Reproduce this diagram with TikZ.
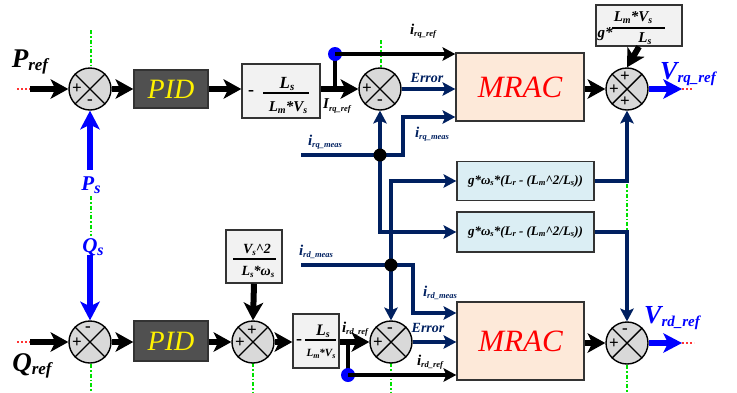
\documentclass[tikz,border=0pt]{standalone}
\usepackage{fontspec}
\setmainfont{Liberation Serif}
\usetikzlibrary{arrows.meta,calc}
\definecolor{navy}{HTML}{002060}
\definecolor{sumgray}{HTML}{D9D9D9}
\definecolor{boxgray}{HTML}{F2F2F2}
\definecolor{pidgray}{HTML}{505050}
\definecolor{peach}{HTML}{FDE9D9}
\definecolor{lblue}{HTML}{DBEEF4}
\definecolor{gline}{HTML}{00E000}
\newcommand\fs[1]{\fontsize{#1}{#1}\selectfont}
\newcommand\sbx[2]{\raisebox{-0.3ex}{\fontsize{#1}{#1}\selectfont #2}}
\begin{document}
\begin{tikzpicture}[x=1pt,y=-1pt,font=\bfseries\itshape,
 sumc/.style={circle,draw=black,line width=1.4pt,fill=sumgray,minimum size=42pt,inner sep=0pt},
 box/.style={draw=black!80,line width=1.5pt,inner sep=0pt},
 thk/.style={black,line width=6pt,-{Stealth[length=18pt,width=20pt,inset=5pt,line width=0pt]}},
 thkb/.style={blue,line width=5.5pt,-{Stealth[length=19pt,width=20pt,inset=5pt,line width=0pt]}},
 nav/.style={navy,line width=3.5pt},
 nava/.style={nav,-{Stealth[length=13pt,width=14pt,inset=3pt,line width=0pt]}},
 blk/.style={black,line width=3.5pt},
 blka/.style={blk,-{Stealth[length=13pt,width=14pt,inset=3pt,line width=0pt]}},
 gdot/.style={draw=gline,line width=1.4pt,dash pattern=on 4pt off 2pt on 1.5pt off 2pt},
 rdot/.style={draw=red!80!white,line width=1.2pt,dash pattern=on 2pt off 2pt},
 jdot/.style={circle,fill=black,minimum size=13pt,inner sep=0pt},
 bdot/.style={circle,fill=blue,minimum size=14pt,inner sep=0pt},
 sg/.style={font=\bfseries\upshape\fs{17},inner sep=0pt},
 lab/.style={inner sep=0pt},
 xfrac/.style={font=\bfseries\itshape\fs{15},inner sep=0pt}]
\useasboundingbox (0,0) rectangle (737,392);

% green guide lines
\draw[gdot] (91,30)--(91,68) (91,196)--(91,236) (91,364)--(91,392)
 (381,40)--(381,68) (627,184)--(627,230)
 (253,363)--(253,392) (391,363)--(391,392) (627,365)--(627,392);

% summing junctions
\node[sumc] (s1) at (90,89) {};
\node[sumc] (s2) at (380,89) {};
\node[sumc] (s3) at (627,89) {};
\node[sumc] (s5) at (90,342) {};
\node[sumc] (s6) at (253,342) {};
\node[sumc] (s7) at (391,342) {};
\node[sumc] (s4) at (627,343) {};
\foreach \s in {s1,s2,s3,s4,s5,s6,s7}{
 \draw[line width=1.4pt] (\s.north west)--(\s.south east) (\s.north east)--(\s.south west);}
\node[sg] (p1a) at ($(s1)+(-13,0)$) {+};
\node[sg] (p1b) at ($(s1)+(0,13)$) {-};
\node[sg] (p2a) at ($(s2)+(-13,0)$) {+};
\node[sg] (p2b) at ($(s2)+(0,13)$) {-};
\node[sg] (p3a) at ($(s3)+(-13,1)$) {+};
\node[sg] (p3b) at ($(s3)+(-2,-12)$) {+};
\node[sg] (p3c) at ($(s3)+(-2,13)$) {+};
\node[sg] (p5a) at ($(s5)+(-13,1)$) {+};
\node[sg] (p5b) at ($(s5)+(-2,-13)$) {-};
\node[sg] (p6a) at ($(s6)+(-13,1)$) {+};
\node[sg] (p6b) at ($(s6)+(-1,-11)$) {+};
\node[sg] (p7a) at ($(s7)+(-13,1)$) {+};
\node[sg] (p7b) at ($(s7)+(-1,-12)$) {-};
\node[sg] (p4a) at ($(s4)+(-13,1)$) {+};
\node[sg] (p4b) at ($(s4)+(-2,-12)$) {-};

% blocks
\node[box,fill=pidgray,minimum width=74pt,minimum height=38pt,text=yellow,font=\mdseries\itshape\fs{28}] (pid1) at (171,89) {PID};
\node[box,fill=pidgray,minimum width=74pt,minimum height=40pt,text=yellow,font=\mdseries\itshape\fs{28}] (pid2) at (171,341) {PID};
\node[box,fill=boxgray,minimum width=78pt,minimum height=54pt] (g1) at (281,91) {};
\node[box,fill=boxgray,minimum width=46pt,minimum height=54pt] (g2) at (316,341) {};
\node[box,fill=boxgray,minimum width=56pt,minimum height=53pt] (vsb) at (254,256.5) {};
\node[box,fill=boxgray,minimum width=86pt,minimum height=41pt] (gk) at (639,25.5) {};
\node[box,fill=peach,minimum width=128pt,minimum height=68pt,text=red,font=\mdseries\itshape\fs{31}] (mrac1) at (520,87) {MRAC};
\node[box,fill=peach,minimum width=127pt,minimum height=78pt,text=red,font=\mdseries\itshape\fs{31}] (mrac2) at (520.5,341) {MRAC};
\node[box,fill=lblue,minimum width=137pt,minimum height=39pt,font=\bfseries\itshape\fs{13}] (gw1) at (525.5,181) {g*ω\sbx{8.5}{s}*(L\sbx{8.5}{r} - (L\sbx{8.5}{m}\textasciicircum 2/L\sbx{8.5}{s}))};
\node[box,fill=lblue,minimum width=137pt,minimum height=40pt,font=\bfseries\itshape\fs{13}] (gw2) at (525.5,232) {g*ω\sbx{8.5}{s}*(L\sbx{8.5}{r} - (L\sbx{8.5}{m}\textasciicircum 2/L\sbx{8.5}{s}))};

% block contents
\node[xfrac,font=\bfseries\upshape\fs{18}] (g1m) at (251,93) {-};
\draw[line width=2.5pt] (263,93) -- (309,93);
\node[xfrac,font=\bfseries\itshape\fs{17}] (g1n) at (287,84) {L\sbx{11}{s}};
\node[xfrac] (g1d) at (288,108) {L\sbx{10}{m}*V\sbx{10}{s}};

\node[xfrac,font=\bfseries\upshape\fs{18}] (g2m) at (299,342) {-};
\draw[line width=2.2pt] (305,340) -- (336,340);
\node[xfrac,font=\bfseries\itshape\fs{16}] (g2n) at (323,331) {L\sbx{10}{s}};
\node[xfrac,font=\bfseries\itshape\fs{11}] (g2d) at (321,354) {L\sbx{8}{m}*V\sbx{8}{s}};

\draw[line width=2.5pt] (233,259) -- (276,259);
\node[xfrac,font=\bfseries\itshape\fs{14}] (vsn) at (257,250) {V\sbx{9}{s}\textasciicircum 2};
\node[xfrac,font=\bfseries\itshape\fs{14}] (vsd) at (258,272) {L\sbx{9}{s}*ω\sbx{9}{s}};

\draw[line width=2.5pt] (612,28) -- (665,28);
\node[xfrac] (gkg) at (605,34) {g*};
\node[xfrac] (gkn) at (633,18) {L\sbx{10}{m}*V\sbx{10}{s}};
\node[xfrac] (gkd) at (645,39) {L\sbx{10}{s}};

% junction dots and coordinates
\coordinate (j1) at (335,89);
\coordinate (j2) at (348,342);
\coordinate (pin) at (30,89);
\coordinate (psin) at (90,170);
\coordinate (qin) at (30,342);
\coordinate (qsin) at (90,255);
\coordinate (rqm) at (301,155);
\coordinate (rdm) at (301,265);
\coordinate (vq) at (682,89);
\coordinate (vd) at (682,343);

% top loop
\draw[rdot] (17,89) -- (pin);
\draw[thk] (pin) -- (s1.west);
\draw[thkb] (psin) -- (s1.south);
\draw[thk] (s1.east) -- (pid1.west);
\draw[thk] (pid1.east) -- (pid1.east -| g1.west);
\draw[thk] (g1.east |- s2.west) -- (s2.west);
\draw[blk] (j1) -- (335,54);
\node[bdot] (d1) at (335,54) {};
\draw[blka] (d1.center) -- (d1.center -| mrac1.west);
\draw[nava] (s2.east) -- (s2.east -| mrac1.west);
\draw[nav] (rqm) -- (380,155);
\draw[nava] (380,155) -- (403,155) -- (403,117) -- (403,117 -| mrac1.west);
\draw[nava] (380,155) -- (s2.south);
\draw[nava] (380,155) |- (gw2.west);

% bottom loop
\draw[nav] (rdm) -- (391,265);
\draw[nava] (391,265) -- (413,265) -- (413,313) -- (413,313 -| mrac2.west);
\draw[nava] (391,265) -- (s7.north);
\draw[nava] (391,265) |- (gw1.west);
\node[jdot] (m1) at (380,155) {};
\node[jdot] (m2) at (391,265) {};

\draw[nava] (gw1.east) -| (s3.south);
\draw[nava] (gw2.east) -| (s4.north);
\draw[thk] (gk.south) -- (s3.north);
\draw[thk] (mrac1.east |- s3.west) -- (s3.west);
\draw[thkb] (s3.east) -- (vq);
\draw[rdot] (vq) -- (692,89);

\draw[rdot] (17,342) -- (qin);
\draw[thk] (qin) -- (s5.west);
\draw[thkb] (qsin) -- (s5.north);
\draw[thk] (s5.east) -- (s5.east -| pid2.west);
\draw[thk] (s6.west -| pid2.east) -- (s6.west);
\draw[thk] (vsb.south) -- (s6.north);
\draw[thk] (s6.east) -- (s6.east -| g2.west);
\draw[thk] (g2.east |- s7.west) -- (s7.west);
\draw[blk] (j2) -- (348,375);
\node[bdot] (d2) at (348,375) {};
\draw[blka] (d2.center) -- (d2.center -| mrac2.west);
\draw[nava] (s7.east) -- (s7.east -| mrac2.west);
\draw[thk] (mrac2.east |- s4.west) -- (s4.west);
\draw[thkb] (s4.east) -- (vd);
\draw[rdot] (vd) -- (694,343);

% labels
\node[lab,font=\bfseries\itshape\fs{27}] (lpref) at (30,62) {P\sbx{17}{ref}};
\node[lab,font=\bfseries\itshape\fs{27}] (lqref) at (32,366) {Q\sbx{17}{ref}};
\node[lab,text=blue,font=\bfseries\itshape\fs{21}] (lps) at (91,185) {P\sbx{16}{s}};
\node[lab,text=blue,font=\bfseries\itshape\fs{21}] (lqs) at (93,247) {Q\sbx{16}{s}};
\node[lab,text=blue,font=\bfseries\itshape\fs{26}] (lvq) at (688,74) {V\sbx{15}{rq\_ref}};
\node[lab,text=blue,font=\bfseries\itshape\fs{26}] (lvd) at (672,318) {V\sbx{15}{rd\_ref}};
\node[lab,font=\bfseries\itshape\fs{15}] (l1) at (423,31) {i\sbx{8.5}{rq\_ref}};
\node[lab,font=\bfseries\itshape\fs{15}] (l2) at (337,106) {I\sbx{8.5}{rq\_ref}};
\node[lab,text=navy,font=\bfseries\itshape\fs{14}] (l3) at (427,78) {Error};
\node[lab,text=navy,font=\bfseries\itshape\fs{15}] (l4) at (432,134) {i\sbx{8.5}{rq\_meas}};
\node[lab,text=navy,font=\bfseries\itshape\fs{15}] (l5) at (325,142) {i\sbx{8.5}{rq\_meas}};
\node[lab,text=navy,font=\bfseries\itshape\fs{15}] (l6) at (316,252) {i\sbx{8.5}{rd\_meas}};
\node[lab,text=navy,font=\bfseries\itshape\fs{15}] (l7) at (440,293) {i\sbx{8.5}{rd\_meas}};
\node[lab,font=\bfseries\itshape\fs{15}] (l8) at (355,329) {i\sbx{8.5}{rd\_ref}};
\node[lab,text=navy,font=\bfseries\itshape\fs{14}] (l9) at (428,328) {Error};
\node[lab,font=\bfseries\itshape\fs{15}] (l10) at (430,362) {i\sbx{8.5}{rd\_ref}};
\end{tikzpicture}
\end{document}
